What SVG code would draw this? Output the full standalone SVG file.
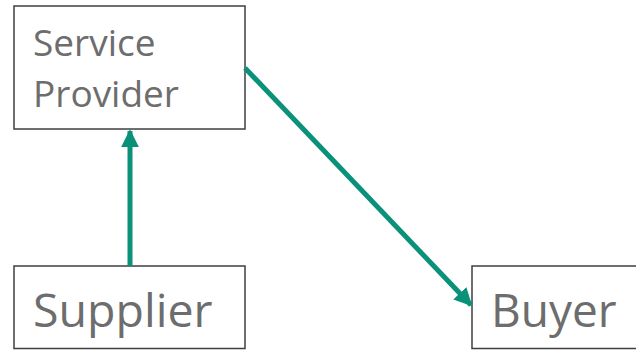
<svg xmlns="http://www.w3.org/2000/svg" width="636" height="350" viewBox="0 0 636 350">
<defs>
<style>
.box{fill:#fff;stroke:#3f3f3f;stroke-width:1.5}
.t{font-family:"Open Sans","Noto Sans","Liberation Sans",sans-serif;fill:#6d6d6d}
.c{stroke:#0a917a;stroke-width:5;fill:none}
</style>
<marker id="ah" viewBox="0 0 10 10" refX="9" refY="5" markerWidth="3.6" markerHeight="3.6" orient="auto" markerUnits="strokeWidth">
<path d="M0,0 L10,5 L0,10 Z" fill="#0a917a"/>
</marker>
</defs>
<g id="service-provider">
<rect class="box" x="14" y="6" width="231" height="123"/>
<text class="t" x="33" y="56" font-size="37">Service</text>
<text class="t" x="33" y="107" font-size="37">Provider</text>
</g>
<g id="supplier">
<rect class="box" x="14" y="266" width="231" height="82.5"/>
<text class="t" x="33" y="327" font-size="46.5">Supplier</text>
</g>
<g id="buyer">
<rect class="box" x="472" y="266" width="170" height="82.5"/>
<text class="t" x="491" y="327" font-size="46">Buyer</text>
</g>
<g id="connectors">
<line class="c" x1="130" y1="266" x2="130" y2="131" marker-end="url(#ah)"/>
<line class="c" x1="245" y1="68" x2="471" y2="305" marker-end="url(#ah)"/>
</g>
</svg>
